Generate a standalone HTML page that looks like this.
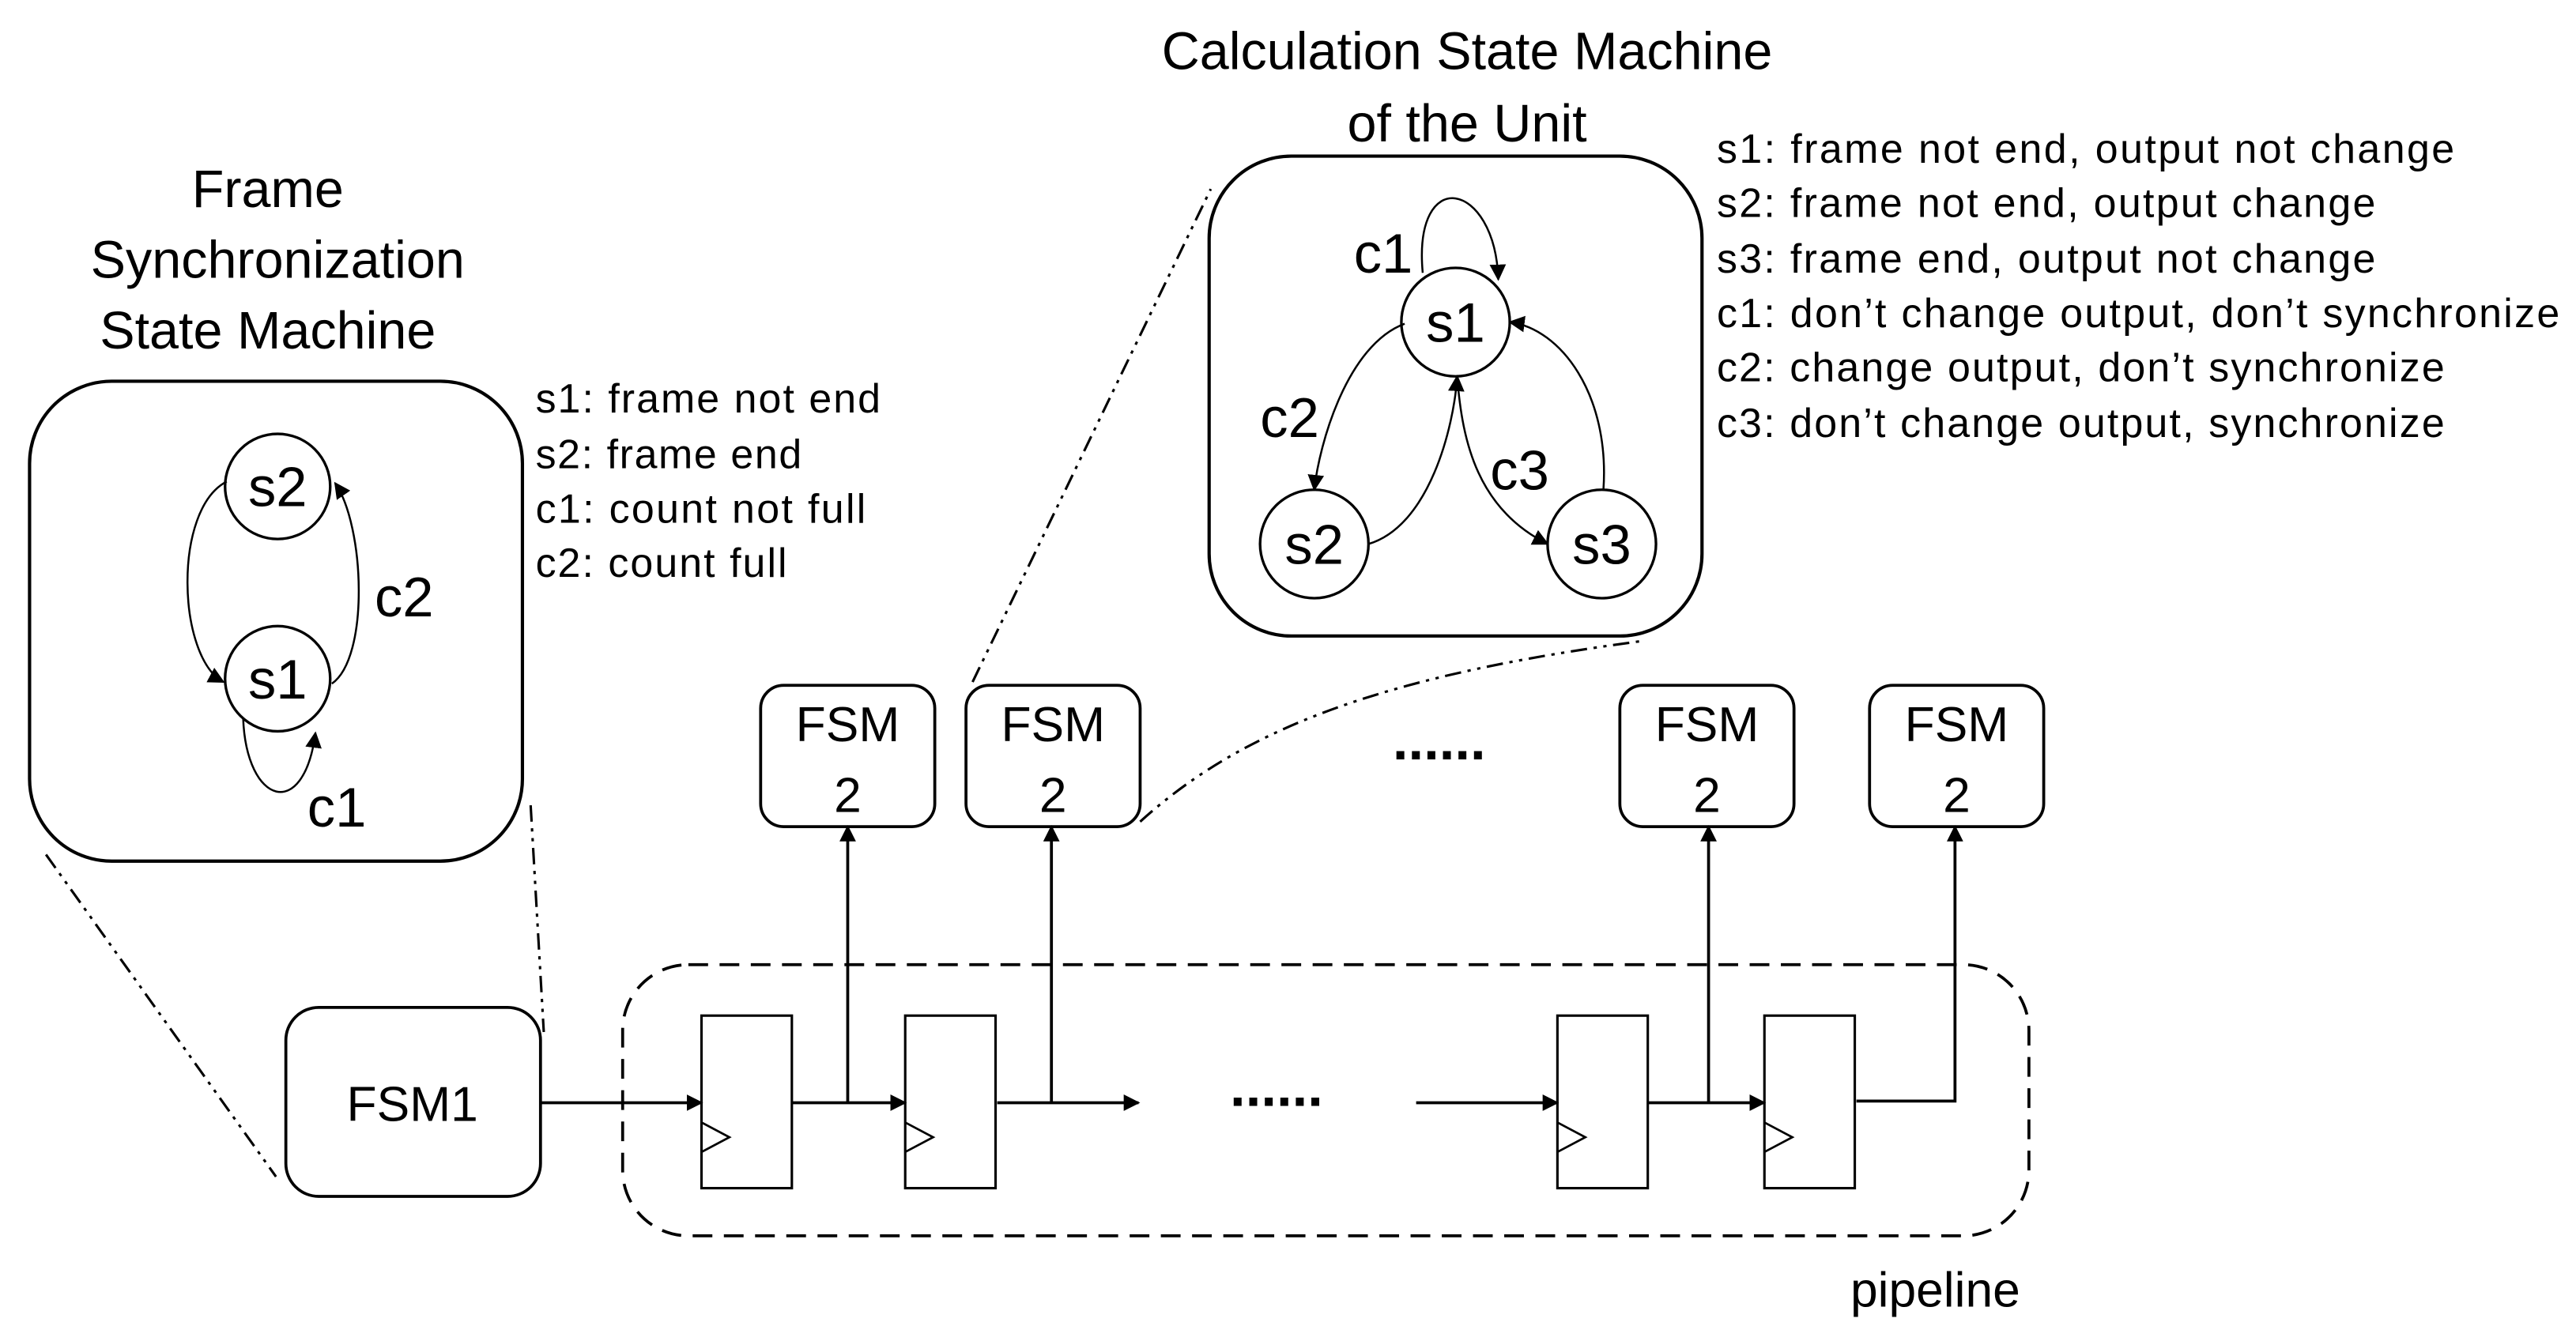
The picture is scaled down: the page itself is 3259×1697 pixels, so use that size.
<!DOCTYPE html>
<html><head><meta charset="utf-8"><style>html,body{margin:0;padding:0;background:#fff}svg{display:block}</style></head>
<body>
<svg width="3259" height="1697" viewBox="0 0 1568 816" preserveAspectRatio="none" xmlns="http://www.w3.org/2000/svg" font-family="Liberation Sans, sans-serif" fill="none" stroke="#000">
<defs><marker id="a" markerWidth="10" markerHeight="10" refX="9" refY="5" orient="auto" markerUnits="userSpaceOnUse"><path d="M0,0 L10,5 L0,10 z" fill="#000" stroke="none"/></marker></defs>
<g fill="#000" stroke="none" font-size="32" text-anchor="middle">
<text x="163" y="126">Frame</text>
<text x="169" y="169">Synchronization</text>
<text x="163" y="212">State Machine</text>
<text x="893" y="42">Calculation State Machine</text>
<text x="893" y="86">of the Unit</text>
</g>
<rect x="18" y="232" width="300" height="292" rx="50" stroke-width="2"/>
<rect x="736" y="95" width="300" height="292" rx="50" stroke-width="2"/>
<g stroke-width="1.6">
<circle cx="169" cy="296" r="32"/><circle cx="169" cy="413" r="32"/>
<circle cx="886" cy="196" r="33"/><circle cx="800" cy="331" r="33"/><circle cx="975" cy="331" r="33"/>
</g>
<g stroke-width="1.2" marker-end="url(#a)">
<path d="M138,293 C105,310 108,400 136,415"/>
<path d="M202,416 C225,400 222,320 204,294"/>
<path d="M148,437 C150,490 185,500 192,446"/>
<path d="M866,166 C860,100 910,110 912,170"/>
<path d="M855,197 C820,210 803,270 800,298"/>
<path d="M833,331 C870,320 885,260 887,229"/>
<path d="M887,229 C890,270 900,310 942,331"/>
<path d="M976,298 C980,240 950,200 919,196"/>
</g>
<g fill="#000" stroke="none" font-size="34">
<text x="246" y="375" text-anchor="middle">c2</text>
<text x="205" y="503" text-anchor="middle">c1</text>
<text x="842" y="166" text-anchor="middle">c1</text>
<text x="785" y="266" text-anchor="middle">c2</text>
<text x="925" y="298" text-anchor="middle">c3</text>
<text x="169" y="308" text-anchor="middle">s2</text>
<text x="169" y="425" text-anchor="middle">s1</text>
<text x="886" y="208" text-anchor="middle">s1</text>
<text x="800" y="343" text-anchor="middle">s2</text>
<text x="975" y="343" text-anchor="middle">s3</text>
</g>
<g fill="#000" stroke="none" font-size="25">
<text x="326" y="251" textLength="210">s1: frame not end</text>
<text x="326" y="285" textLength="162">s2: frame end</text>
<text x="326" y="318" textLength="201">c1: count not full</text>
<text x="326" y="351" textLength="153">c2: count full</text>
<text x="1045" y="99" textLength="449">s1: frame not end, output not change</text>
<text x="1045" y="132" textLength="401">s2: frame not end, output change</text>
<text x="1045" y="166" textLength="401">s3: frame end, output not change</text>
<text x="1045" y="199" textLength="513">c1: don’t change output, don’t synchronize</text>
<text x="1045" y="232" textLength="443">c2: change output, don’t synchronize</text>
<text x="1045" y="266" textLength="443">c3: don’t change output, synchronize</text>
</g>
<g stroke-width="1.8">
<rect x="463" y="417" width="106" height="86" rx="14"/>
<rect x="588" y="417" width="106" height="86" rx="14"/>
<rect x="986" y="417" width="106" height="86" rx="14"/>
<rect x="1138" y="417" width="106" height="86" rx="14"/>
<rect x="174" y="613" width="155" height="115" rx="20"/>
<rect x="379" y="587" width="856" height="165" rx="40" stroke-dasharray="12,7"/>
<rect x="427" y="618" width="55" height="105" stroke-width="1.5"/>
<rect x="551" y="618" width="55" height="105" stroke-width="1.5"/>
<rect x="948" y="618" width="55" height="105" stroke-width="1.5"/>
<rect x="1074" y="618" width="55" height="105" stroke-width="1.5"/>
</g>
<g stroke-width="1.3">
<path d="M427,683 L444,692 L427,701"/><path d="M551,683 L568,692 L551,701"/>
<path d="M948,683 L965,692 L948,701"/><path d="M1074,683 L1091,692 L1074,701"/>
</g>
<g fill="#000" stroke="none" font-size="30" text-anchor="middle">
<text x="516" y="451">FSM</text><text x="516" y="494">2</text>
<text x="641" y="451">FSM</text><text x="641" y="494">2</text>
<text x="1039" y="451">FSM</text><text x="1039" y="494">2</text>
<text x="1191" y="451">FSM</text><text x="1191" y="494">2</text>
<text x="251" y="682">FSM1</text>
<text x="1178" y="795">pipeline</text>
<text x="876" y="462" font-size="34" font-weight="bold">......</text>
<text x="777" y="673" font-size="34" font-weight="bold">......</text>
</g>
<g stroke-width="1.8" marker-end="url(#a)">
<path d="M329,671 H427"/><path d="M482,671 H551"/><path d="M607,671 H693"/>
<path d="M862,671 H948"/><path d="M1003,671 H1074"/>
<path d="M516,671 V503"/><path d="M640,671 V503"/><path d="M1040,671 V503"/>
<path d="M1130,670 H1190 V503"/>
</g>
<g stroke-width="1.5" stroke-dasharray="10,4,2,4,2,4">
<path d="M28,520 L168,716"/><path d="M323,490 L331,628"/>
<path d="M592,415 L737,115"/><path d="M694,500 C760,440 850,410 1000,390"/>
</g>
</svg>
</body></html>
